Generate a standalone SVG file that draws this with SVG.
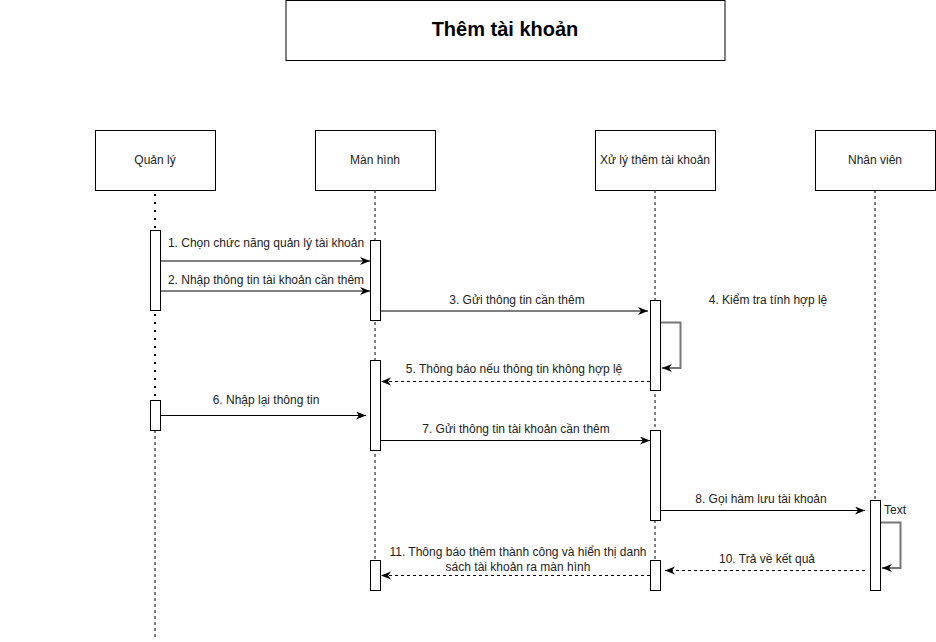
<svg xmlns="http://www.w3.org/2000/svg" width="936" height="642" viewBox="0 0 936 642">
<style>
text{font-family:"Liberation Sans",Arial,sans-serif;font-size:12px;fill:#222}
.c{text-anchor:middle}
.box{fill:#fff;stroke:#000;stroke-width:1}
.act{fill:#fff;stroke:#000;stroke-width:1}
.life{stroke:#000;stroke-width:1;stroke-dasharray:3 3;fill:none}
.dot{stroke:#000;stroke-width:2;stroke-dasharray:2 6;fill:none}
.msg{stroke:#000;stroke-width:1;fill:none;marker-end:url(#ah)}
.ret{stroke:#000;stroke-width:1;fill:none;stroke-dasharray:3 3;marker-end:url(#ah)}
.self{stroke:#777;stroke-width:2;fill:none;marker-end:url(#ah)}
</style>
<defs>
<marker id="ah" markerUnits="userSpaceOnUse" markerWidth="12" markerHeight="10" refX="10" refY="4" orient="auto">
<path d="M0,0 L10,4 L0,8 L3,4 z" fill="#000"/>
</marker>
</defs>
<g id="title">
<rect class="box" x="286" y="0.5" width="439" height="60"/>
<text class="c" x="505" y="36" style="font-size:20px;font-weight:bold;fill:#000">Thêm tài khoản</text>
</g>
<g id="lifelines">
<path class="dot" d="M155,194 V230 M155,314 V400"/>
<path class="life" d="M155,430 V640"/>
<path class="life" d="M375,190 V590"/>
<path class="life" d="M655,190 V590"/>
<path class="life" d="M875,190 V590"/>
</g>
<g id="quanly">
<rect class="box" x="95.5" y="130.5" width="120" height="60"/>
<text class="c" x="155" y="164">Quản lý</text>
<rect class="act" x="150.5" y="230.5" width="10" height="80"/>
<rect class="act" x="150.5" y="400.5" width="10" height="30"/>
</g>
<g id="manhinh">
<rect class="box" x="315.5" y="130.5" width="120" height="60"/>
<text class="c" x="375" y="164">Màn hình</text>
<rect class="act" x="370.5" y="240.5" width="10" height="80"/>
<rect class="act" x="370.5" y="360.5" width="10" height="90"/>
<rect class="act" x="370.5" y="560.5" width="10" height="30"/>
</g>
<g id="xuly">
<rect class="box" x="595.5" y="130.5" width="120" height="60"/>
<text class="c" x="655" y="164">Xử lý thêm tài khoản</text>
<rect class="act" x="650.5" y="300.5" width="10" height="90"/>
<rect class="act" x="650.5" y="430.5" width="10" height="90"/>
<rect class="act" x="650.5" y="560.5" width="10" height="30"/>
</g>
<g id="nhanvien">
<rect class="box" x="815.5" y="130.5" width="120" height="60"/>
<text class="c" x="875" y="164">Nhân viên</text>
<rect class="act" x="870.5" y="500.5" width="10" height="90"/>
</g>
<g id="connectors">
<path class="msg" d="M160,261 H370"/>
<path class="msg" d="M160,291 H370"/>
<path class="msg" d="M380,311 H648"/>
<path class="self" d="M661,322.5 H680.5 V368 H662"/>
<path class="ret" d="M650,381.5 H381"/>
<path class="msg" d="M160,415.5 H366"/>
<path class="msg" d="M380,440.5 H650"/>
<path class="msg" d="M660,510.5 H865"/>
<path class="self" d="M881,522.5 H900.5 V568 H882"/>
<path class="ret" d="M865,570.5 H665"/>
<path class="ret" d="M650,575.5 H381"/>
</g>
<g id="labels">
<text class="c" x="266" y="247">1. Chọn chức năng quản lý tài khoản</text>
<text class="c" x="266" y="284">2. Nhập thông tin tài khoản cần thêm</text>
<text class="c" x="517" y="304">3. Gửi thông tin cần thêm</text>
<text class="c" x="768" y="304">4. Kiểm tra tính hợp lệ</text>
<text class="c" x="514" y="373">5. Thông báo nếu thông tin không hợp lệ</text>
<text class="c" x="266" y="404">6. Nhập lại thông tin</text>
<text class="c" x="516" y="433">7. Gửi thông tin tài khoản cần thêm</text>
<text class="c" x="761" y="503">8. Gọi hàm lưu tài khoản</text>
<text x="884" y="514">Text</text>
<text class="c" x="767" y="563">10. Trả về kết quả</text>
<text class="c" x="518" y="556">11. Thông báo thêm thành công và hiển thị danh</text>
<text class="c" x="518" y="571">sách tài khoản ra màn hình</text>
</g>
</svg>
